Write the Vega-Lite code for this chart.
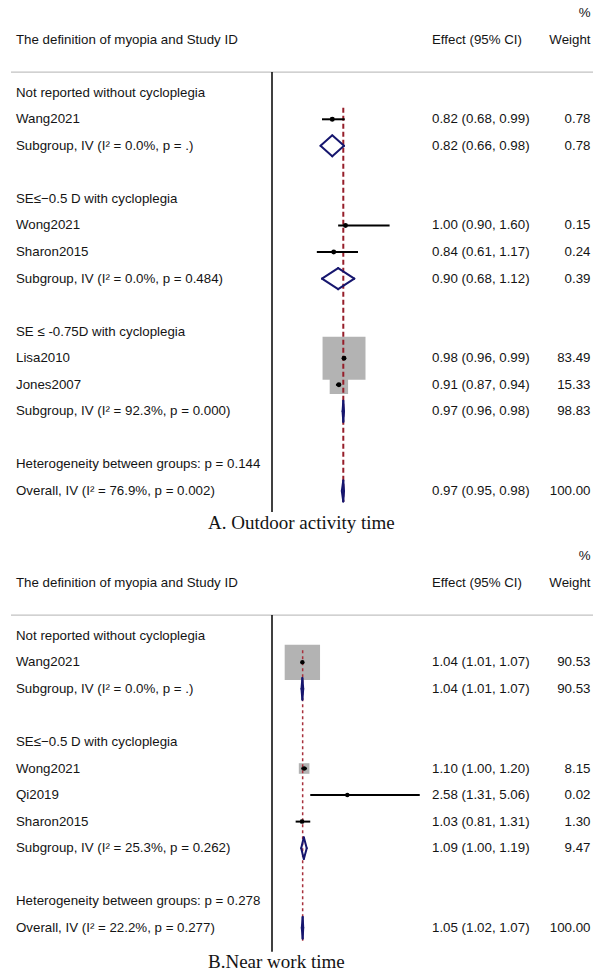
{
  "$schema": "https://vega.github.io/schema/vega-lite/v6.json",
  "padding": {"left": 10, "top": 0, "right": 0, "bottom": 0},
  "background": "white",
  "spacing": 0,
  "resolve": {"scale": {"size": "independent"}},
  "config": {
    "view": {"stroke": null},
    "text": {"font": "Liberation Sans", "fontSize": 13.3, "color": "#141414"}
  },
  "datasets": {
    "outdoor": [
      {"row": -3, "wtlabel": "%"},
      {"row": -2, "label": "The definition of myopia and Study ID", "ci": "Effect (95% CI)", "wtlabel": "Weight"},
      {"row": 0, "label": "Not reported without cycloplegia", "kind": "group"},
      {"row": 1, "label": "Wang2021", "kind": "study", "est": 0.82, "lo": 0.68, "hi": 0.99, "ci": "0.82 (0.68, 0.99)", "weight": 0.78},
      {"row": 2, "label": "Subgroup, IV (I² = 0.0%, p = .)", "kind": "subgroup", "est": 0.82, "lo": 0.66, "hi": 0.98, "ci": "0.82 (0.66, 0.98)", "weight": 0.78},
      {"row": 4, "label": "SE≤−0.5 D with cycloplegia", "kind": "group"},
      {"row": 5, "label": "Wong2021", "kind": "study", "est": 1.00, "lo": 0.90, "hi": 1.60, "ci": "1.00 (0.90, 1.60)", "weight": 0.15},
      {"row": 6, "label": "Sharon2015", "kind": "study", "est": 0.84, "lo": 0.61, "hi": 1.17, "ci": "0.84 (0.61, 1.17)", "weight": 0.24},
      {"row": 7, "label": "Subgroup, IV (I² = 0.0%, p = 0.484)", "kind": "subgroup", "est": 0.90, "lo": 0.68, "hi": 1.12, "ci": "0.90 (0.68, 1.12)", "weight": 0.39},
      {"row": 9, "label": "SE ≤ -0.75D with cycloplegia", "kind": "group"},
      {"row": 10, "label": "Lisa2010", "kind": "study", "est": 0.98, "lo": 0.96, "hi": 0.99, "ci": "0.98 (0.96, 0.99)", "weight": 83.49},
      {"row": 11, "label": "Jones2007", "kind": "study", "est": 0.91, "lo": 0.87, "hi": 0.94, "ci": "0.91 (0.87, 0.94)", "weight": 15.33},
      {"row": 12, "label": "Subgroup, IV (I² = 92.3%, p = 0.000)", "kind": "subgroup", "est": 0.97, "lo": 0.96, "hi": 0.98, "ci": "0.97 (0.96, 0.98)", "weight": 98.83},
      {"row": 14, "label": "Heterogeneity between groups: p = 0.144", "kind": "note"},
      {"row": 15, "label": "Overall, IV (I² = 76.9%, p = 0.002)", "kind": "overall", "est": 0.97, "lo": 0.95, "hi": 0.98, "ci": "0.97 (0.95, 0.98)", "weight": 100.00}
    ],
    "nearwork": [
      {"row": -3, "wtlabel": "%"},
      {"row": -2, "label": "The definition of myopia and Study ID", "ci": "Effect (95% CI)", "wtlabel": "Weight"},
      {"row": 0, "label": "Not reported without cycloplegia", "kind": "group"},
      {"row": 1, "label": "Wang2021", "kind": "study", "est": 1.04, "lo": 1.01, "hi": 1.07, "ci": "1.04 (1.01, 1.07)", "weight": 90.53},
      {"row": 2, "label": "Subgroup, IV (I² = 0.0%, p = .)", "kind": "subgroup", "est": 1.04, "lo": 1.01, "hi": 1.07, "ci": "1.04 (1.01, 1.07)", "weight": 90.53},
      {"row": 4, "label": "SE≤−0.5 D with cycloplegia", "kind": "group"},
      {"row": 5, "label": "Wong2021", "kind": "study", "est": 1.10, "lo": 1.00, "hi": 1.20, "ci": "1.10 (1.00, 1.20)", "weight": 8.15},
      {"row": 6, "label": "Qi2019", "kind": "study", "est": 2.58, "lo": 1.31, "hi": 5.06, "ci": "2.58 (1.31, 5.06)", "weight": 0.02},
      {"row": 7, "label": "Sharon2015", "kind": "study", "est": 1.03, "lo": 0.81, "hi": 1.31, "ci": "1.03 (0.81, 1.31)", "weight": 1.30},
      {"row": 8, "label": "Subgroup, IV (I² = 25.3%, p = 0.262)", "kind": "subgroup", "est": 1.09, "lo": 1.00, "hi": 1.19, "ci": "1.09 (1.00, 1.19)", "weight": 9.47},
      {"row": 10, "label": "Heterogeneity between groups: p = 0.278", "kind": "note"},
      {"row": 11, "label": "Overall, IV (I² = 22.2%, p = 0.277)", "kind": "overall", "est": 1.05, "lo": 1.02, "hi": 1.07, "ci": "1.05 (1.02, 1.07)", "weight": 100.00}
    ]
  },
  "vconcat": [
    {
      "spacing": 0,
      "bounds": "flush",
      "hconcat": [
        {
          "width": 261, "height": 543,
          "data": {"name": "outdoor"},
          "title": {"text": "A. Outdoor activity time", "orient": "bottom", "anchor": "start", "frame": "group", "dx": 197, "offset": -20, "baseline": "middle", "font": "Liberation Serif", "fontSize": 19, "fontWeight": "normal", "color": "#141414"},
          "encoding": {"y": {"field": "row", "type": "quantitative", "scale": {"domain": [-3.4934, 16.959], "reverse": true, "nice": false, "zero": false}, "axis": null}},
          "layer": [
            {"transform": [{"filter": "datum.row == -2"}], "mark": {"type": "rule", "color": "#c2c2c2", "strokeWidth": 1.2}, "encoding": {"y": {"datum": -0.78}}},
            {"transform": [{"filter": "isValid(datum.label)"}], "mark": {"type": "text", "align": "left", "baseline": "middle", "dx": 5}, "encoding": {"x": {"value": 0}, "text": {"field": "label"}}}
          ]
        },
        {
          "width": 159, "height": 543,
          "data": {"name": "outdoor"},
          "encoding": {"y": {"field": "row", "type": "quantitative", "scale": {"domain": [-3.4934, 16.959], "reverse": true, "nice": false, "zero": false}, "axis": null}},
          "layer": [
            {"transform": [{"filter": "datum.row == -2"}], "mark": {"type": "rule", "color": "#c2c2c2", "strokeWidth": 1.2}, "encoding": {"y": {"datum": -0.78}}},
            {"transform": [{"filter": "datum.kind == 'overall'"}], "mark": {"type": "rule", "color": "#000000", "strokeWidth": 1.5, "y2Offset": 21},
             "encoding": {"x": {"datum": 0, "type": "quantitative", "scale": {"domain": [0, 2.1633], "nice": false, "zero": false}, "axis": null}, "y": {"datum": -0.78}, "y2": {"field": "row"}}},
            {"transform": [{"filter": "datum.kind == 'study'"}], "mark": {"type": "point", "shape": "square", "filled": true, "color": "#b3b3b3", "opacity": 1, "strokeWidth": 0},
             "encoding": {"x": {"field": "est", "type": "quantitative", "scale": {"domain": [0, 2.1633], "nice": false, "zero": false}, "axis": null}, "size": {"field": "weight", "type": "quantitative", "scale": {"domain": [0, 100], "range": [0, 2210]}, "legend": null}}},
            {"transform": [{"filter": "datum.kind == 'overall'"}], "mark": {"type": "rule", "color": "#961e2a", "strokeWidth": 2, "strokeDash": [5, 3], "yOffset": -11.5, "y2Offset": 11},
             "encoding": {"x": {"field": "est", "type": "quantitative", "scale": {"domain": [0, 2.1633], "nice": false, "zero": false}, "axis": null}, "y": {"datum": 1}, "y2": {"field": "row"}}},
            {"transform": [{"filter": "datum.kind == 'study'"}], "mark": {"type": "rule", "color": "#000000", "strokeWidth": 2},
             "encoding": {"x": {"field": "lo", "type": "quantitative", "scale": {"domain": [0, 2.1633], "nice": false, "zero": false}, "axis": null}, "x2": {"field": "hi"}}},
            {"transform": [{"filter": "datum.kind == 'study'"}], "mark": {"type": "point", "shape": "circle", "filled": true, "color": "#000000", "opacity": 1, "size": 24},
             "encoding": {"x": {"field": "est", "type": "quantitative", "scale": {"domain": [0, 2.1633], "nice": false, "zero": false}, "axis": null}}},
            {"transform": [{"filter": "datum.kind == 'subgroup' || datum.kind == 'overall'"}], "mark": {"type": "rule", "color": "#16166e", "strokeWidth": 2, "strokeCap": "round", "y2Offset": -10.5},
             "encoding": {"x": {"field": "lo", "type": "quantitative", "scale": {"domain": [0, 2.1633], "nice": false, "zero": false}, "axis": null}, "x2": {"field": "est"}, "y2": {"field": "row"}}},
            {"transform": [{"filter": "datum.kind == 'subgroup' || datum.kind == 'overall'"}], "mark": {"type": "rule", "color": "#16166e", "strokeWidth": 2, "strokeCap": "round", "yOffset": -10.5},
             "encoding": {"x": {"field": "est", "type": "quantitative", "scale": {"domain": [0, 2.1633], "nice": false, "zero": false}, "axis": null}, "x2": {"field": "hi"}, "y2": {"field": "row"}}},
            {"transform": [{"filter": "datum.kind == 'subgroup' || datum.kind == 'overall'"}], "mark": {"type": "rule", "color": "#16166e", "strokeWidth": 2, "strokeCap": "round", "y2Offset": 10.5},
             "encoding": {"x": {"field": "lo", "type": "quantitative", "scale": {"domain": [0, 2.1633], "nice": false, "zero": false}, "axis": null}, "x2": {"field": "est"}, "y2": {"field": "row"}}},
            {"transform": [{"filter": "datum.kind == 'subgroup' || datum.kind == 'overall'"}], "mark": {"type": "rule", "color": "#16166e", "strokeWidth": 2, "strokeCap": "round", "yOffset": 10.5},
             "encoding": {"x": {"field": "est", "type": "quantitative", "scale": {"domain": [0, 2.1633], "nice": false, "zero": false}, "axis": null}, "x2": {"field": "hi"}, "y2": {"field": "row"}}}
          ]
        },
        {
          "width": 110, "height": 543,
          "data": {"name": "outdoor"},
          "encoding": {"y": {"field": "row", "type": "quantitative", "scale": {"domain": [-3.4934, 16.959], "reverse": true, "nice": false, "zero": false}, "axis": null}},
          "layer": [
            {"transform": [{"filter": "datum.row == -2"}], "mark": {"type": "rule", "color": "#c2c2c2", "strokeWidth": 1.2}, "encoding": {"y": {"datum": -0.78}}},
            {"transform": [{"filter": "isValid(datum.ci)"}], "mark": {"type": "text", "align": "left", "baseline": "middle", "dx": 1}, "encoding": {"x": {"value": 0}, "text": {"field": "ci"}}}
          ]
        },
        {
          "width": 53, "height": 543,
          "data": {"name": "outdoor"},
          "encoding": {"y": {"field": "row", "type": "quantitative", "scale": {"domain": [-3.4934, 16.959], "reverse": true, "nice": false, "zero": false}, "axis": null}},
          "layer": [
            {"transform": [{"filter": "datum.row == -2"}], "mark": {"type": "rule", "color": "#c2c2c2", "strokeWidth": 1.2}, "encoding": {"y": {"datum": -0.78}}},
            {"transform": [{"filter": "isValid(datum.wtlabel)"}], "mark": {"type": "text", "align": "right", "baseline": "middle", "dx": -3.5}, "encoding": {"x": {"value": 53}, "text": {"field": "wtlabel"}}},
            {"transform": [{"filter": "isValid(datum.weight)"}], "mark": {"type": "text", "align": "right", "baseline": "middle", "dx": -3.5}, "encoding": {"x": {"value": 53}, "text": {"field": "weight", "type": "quantitative", "format": ".2f"}}}
          ]
        }
      ]
    },
    {
      "spacing": 0,
      "bounds": "flush",
      "hconcat": [
        {
          "width": 261, "height": 431,
          "data": {"name": "nearwork"},
          "title": {"text": "B.Near work time", "orient": "bottom", "anchor": "start", "frame": "group", "dx": 197, "offset": -12.3, "baseline": "middle", "font": "Liberation Serif", "fontSize": 19, "fontWeight": "normal", "color": "#141414"},
          "encoding": {"y": {"field": "row", "type": "quantitative", "scale": {"domain": [-3.4934, 12.74], "reverse": true, "nice": false, "zero": false}, "axis": null}},
          "layer": [
            {"transform": [{"filter": "datum.row == -2"}], "mark": {"type": "rule", "color": "#c2c2c2", "strokeWidth": 1.2}, "encoding": {"y": {"datum": -0.78}}},
            {"transform": [{"filter": "isValid(datum.label)"}], "mark": {"type": "text", "align": "left", "baseline": "middle", "dx": 5}, "encoding": {"x": {"value": 0}, "text": {"field": "label"}}}
          ]
        },
        {
          "width": 159, "height": 431,
          "data": {"name": "nearwork"},
          "encoding": {"y": {"field": "row", "type": "quantitative", "scale": {"domain": [-3.4934, 12.74], "reverse": true, "nice": false, "zero": false}, "axis": null}},
          "layer": [
            {"transform": [{"filter": "datum.row == -2"}], "mark": {"type": "rule", "color": "#c2c2c2", "strokeWidth": 1.2}, "encoding": {"y": {"datum": -0.78}}},
            {"transform": [{"filter": "datum.kind == 'overall'"}], "mark": {"type": "rule", "color": "#000000", "strokeWidth": 1.5, "y2Offset": 24},
             "encoding": {"x": {"datum": 0, "type": "quantitative", "scale": {"domain": [0, 5.4452], "nice": false, "zero": false}, "axis": null}, "y": {"datum": -0.78}, "y2": {"field": "row"}}},
            {"transform": [{"filter": "datum.kind == 'study'"}], "mark": {"type": "point", "shape": "square", "filled": true, "color": "#b3b3b3", "opacity": 1, "strokeWidth": 0},
             "encoding": {"x": {"field": "est", "type": "quantitative", "scale": {"domain": [0, 5.4452], "nice": false, "zero": false}, "axis": null}, "size": {"field": "weight", "type": "quantitative", "scale": {"domain": [0, 100], "range": [0, 1380]}, "legend": null}}},
            {"transform": [{"filter": "datum.kind == 'overall'"}], "mark": {"type": "rule", "color": "#a8303c", "strokeWidth": 1.5, "strokeDash": [3, 3], "yOffset": -12, "y2Offset": 13},
             "encoding": {"x": {"field": "est", "type": "quantitative", "scale": {"domain": [0, 5.4452], "nice": false, "zero": false}, "axis": null}, "y": {"datum": 1}, "y2": {"field": "row"}}},
            {"transform": [{"filter": "datum.kind == 'study'"}], "mark": {"type": "rule", "color": "#000000", "strokeWidth": 2},
             "encoding": {"x": {"field": "lo", "type": "quantitative", "scale": {"domain": [0, 5.4452], "nice": false, "zero": false}, "axis": null}, "x2": {"field": "hi"}}},
            {"transform": [{"filter": "datum.kind == 'study'"}], "mark": {"type": "point", "shape": "circle", "filled": true, "color": "#000000", "opacity": 1, "size": 20},
             "encoding": {"x": {"field": "est", "type": "quantitative", "scale": {"domain": [0, 5.4452], "nice": false, "zero": false}, "axis": null}}},
            {"transform": [{"filter": "datum.kind == 'subgroup' || datum.kind == 'overall'"}], "mark": {"type": "rule", "color": "#16166e", "strokeWidth": 2, "strokeCap": "round", "y2Offset": -10.8},
             "encoding": {"x": {"field": "lo", "type": "quantitative", "scale": {"domain": [0, 5.4452], "nice": false, "zero": false}, "axis": null}, "x2": {"field": "est"}, "y2": {"field": "row"}}},
            {"transform": [{"filter": "datum.kind == 'subgroup' || datum.kind == 'overall'"}], "mark": {"type": "rule", "color": "#16166e", "strokeWidth": 2, "strokeCap": "round", "yOffset": -10.8},
             "encoding": {"x": {"field": "est", "type": "quantitative", "scale": {"domain": [0, 5.4452], "nice": false, "zero": false}, "axis": null}, "x2": {"field": "hi"}, "y2": {"field": "row"}}},
            {"transform": [{"filter": "datum.kind == 'subgroup' || datum.kind == 'overall'"}], "mark": {"type": "rule", "color": "#16166e", "strokeWidth": 2, "strokeCap": "round", "y2Offset": 10.8},
             "encoding": {"x": {"field": "lo", "type": "quantitative", "scale": {"domain": [0, 5.4452], "nice": false, "zero": false}, "axis": null}, "x2": {"field": "est"}, "y2": {"field": "row"}}},
            {"transform": [{"filter": "datum.kind == 'subgroup' || datum.kind == 'overall'"}], "mark": {"type": "rule", "color": "#16166e", "strokeWidth": 2, "strokeCap": "round", "yOffset": 10.8},
             "encoding": {"x": {"field": "est", "type": "quantitative", "scale": {"domain": [0, 5.4452], "nice": false, "zero": false}, "axis": null}, "x2": {"field": "hi"}, "y2": {"field": "row"}}}
          ]
        },
        {
          "width": 110, "height": 431,
          "data": {"name": "nearwork"},
          "encoding": {"y": {"field": "row", "type": "quantitative", "scale": {"domain": [-3.4934, 12.74], "reverse": true, "nice": false, "zero": false}, "axis": null}},
          "layer": [
            {"transform": [{"filter": "datum.row == -2"}], "mark": {"type": "rule", "color": "#c2c2c2", "strokeWidth": 1.2}, "encoding": {"y": {"datum": -0.78}}},
            {"transform": [{"filter": "isValid(datum.ci)"}], "mark": {"type": "text", "align": "left", "baseline": "middle", "dx": 1}, "encoding": {"x": {"value": 0}, "text": {"field": "ci"}}}
          ]
        },
        {
          "width": 53, "height": 431,
          "data": {"name": "nearwork"},
          "encoding": {"y": {"field": "row", "type": "quantitative", "scale": {"domain": [-3.4934, 12.74], "reverse": true, "nice": false, "zero": false}, "axis": null}},
          "layer": [
            {"transform": [{"filter": "datum.row == -2"}], "mark": {"type": "rule", "color": "#c2c2c2", "strokeWidth": 1.2}, "encoding": {"y": {"datum": -0.78}}},
            {"transform": [{"filter": "isValid(datum.wtlabel)"}], "mark": {"type": "text", "align": "right", "baseline": "middle", "dx": -3.5}, "encoding": {"x": {"value": 53}, "text": {"field": "wtlabel"}}},
            {"transform": [{"filter": "isValid(datum.weight)"}], "mark": {"type": "text", "align": "right", "baseline": "middle", "dx": -3.5}, "encoding": {"x": {"value": 53}, "text": {"field": "weight", "type": "quantitative", "format": ".2f"}}}
          ]
        }
      ]
    }
  ]
}
